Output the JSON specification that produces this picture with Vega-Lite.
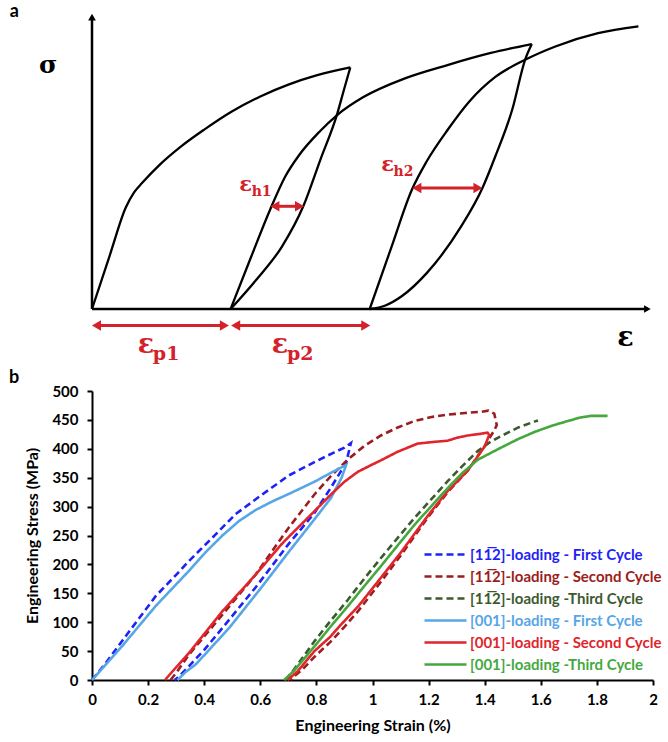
{
  "$schema": "https://vega.github.io/schema/vega-lite/v6.json",
  "padding": {"left": 8, "top": 3, "right": 5, "bottom": 5},
  "bounds": "flush",
  "spacing": 82,
  "config": {"view": {"stroke": null}, "background": "white"},
  "vconcat": [
    {
      "width": 561,
      "height": 296,
      "encoding": {
        "x": {"field": "e", "type": "quantitative", "scale": {"domain": [0, 100], "nice": false, "zero": false}, "axis": null},
        "y": {"field": "s", "type": "quantitative", "scale": {"domain": [0, 100], "nice": false, "zero": false}, "axis": null}
      },
      "layer": [
        {
          "data": {"values": [
            {"c": "L1", "e": 0, "s": 0}, {"c": "L1", "e": 3.2, "s": 18.3}, {"c": "L1", "e": 6.0, "s": 34.2}, {"c": "L1", "e": 7.5, "s": 39.4}, {"c": "L1", "e": 9.0, "s": 42.7}, {"c": "L1", "e": 12.0, "s": 48.6}, {"c": "L1", "e": 16.0, "s": 55.1}, {"c": "L1", "e": 20.0, "s": 60.6}, {"c": "L1", "e": 25.0, "s": 66.8}, {"c": "L1", "e": 30.0, "s": 71.8}, {"c": "L1", "e": 35.0, "s": 75.8}, {"c": "L1", "e": 40.0, "s": 78.9}, {"c": "L1", "e": 46.04, "s": 81.6},
            {"c": "U1", "e": 46.04, "s": 81.6}, {"c": "U1", "e": 44.9, "s": 74.0}, {"c": "U1", "e": 43.75, "s": 66.2}, {"c": "U1", "e": 40.7, "s": 50.4}, {"c": "U1", "e": 37.66, "s": 34.7}, {"c": "U1", "e": 33.86, "s": 21.1}, {"c": "U1", "e": 29.29, "s": 9.9}, {"c": "U1", "e": 24.71, "s": 0},
            {"c": "R1", "e": 24.71, "s": 0}, {"c": "R1", "e": 28.3, "s": 17.3}, {"c": "R1", "e": 31.8, "s": 33.8}, {"c": "R1", "e": 34.4, "s": 44.6}, {"c": "R1", "e": 37.0, "s": 52.2}, {"c": "R1", "e": 40.5, "s": 59.8}, {"c": "R1", "e": 43.75, "s": 65.6}, {"c": "R1", "e": 48.3, "s": 71.5}, {"c": "R1", "e": 55.9, "s": 78.0}, {"c": "R1", "e": 63.5, "s": 82.5}, {"c": "R1", "e": 71.1, "s": 86.5}, {"c": "R1", "e": 78.4, "s": 89.5},
            {"c": "U2", "e": 78.4, "s": 89.5}, {"c": "U2", "e": 77.2, "s": 84.2}, {"c": "U2", "e": 74.9, "s": 67.3}, {"c": "U2", "e": 71.9, "s": 51.6}, {"c": "U2", "e": 69.6, "s": 40.9}, {"c": "U2", "e": 65.8, "s": 27.9}, {"c": "U2", "e": 59.7, "s": 12.2}, {"c": "U2", "e": 55.2, "s": 4.3}, {"c": "U2", "e": 52.3, "s": 1.2}, {"c": "U2", "e": 49.5, "s": 0},
            {"c": "R2", "e": 49.5, "s": 0}, {"c": "R2", "e": 53.3, "s": 20.5}, {"c": "R2", "e": 57.0, "s": 40.2}, {"c": "R2", "e": 59.7, "s": 50.0}, {"c": "R2", "e": 63.5, "s": 60.8}, {"c": "R2", "e": 67.3, "s": 70.2}, {"c": "R2", "e": 71.9, "s": 78.4}, {"c": "R2", "e": 77.2, "s": 84.2}, {"c": "R2", "e": 82.6, "s": 88.7}, {"c": "R2", "e": 90.2, "s": 93.2}, {"c": "R2", "e": 97.4, "s": 95.5}
          ]},
          "mark": {"type": "line", "color": "black", "strokeWidth": 2.3, "interpolate": "monotone"},
          "encoding": {"detail": {"field": "c", "type": "nominal"}, "order": {"field": "e", "type": "quantitative"}}
        },
        {
          "data": {"values": [{"e": 0, "s": 0, "e2": 0, "s2": 98.6}, {"e": 0, "s": 0, "e2": 99, "s2": 0}]},
          "mark": {"type": "rule", "color": "black", "strokeWidth": 2.5},
          "encoding": {"x2": {"field": "e2"}, "y2": {"field": "s2"}}
        },
        {
          "data": {"values": [{"e": 0, "s": 98.6}]},
          "mark": {"type": "point", "shape": "triangle-up", "filled": true, "color": "black", "size": 60, "opacity": 1}
        },
        {
          "data": {"values": [{"e": 99, "s": 0}]},
          "mark": {"type": "point", "shape": "triangle-right", "filled": true, "color": "black", "size": 60, "opacity": 1}
        },
        {
          "data": {"values": [
            {"name": "h1", "e": 32.6, "e2": 37.0, "s": 34.7},
            {"name": "h2", "e": 57.9, "e2": 68.8, "s": 40.9},
            {"name": "p1", "e": 0.8, "e2": 23.6, "s": -5.6},
            {"name": "p2", "e": 25.6, "e2": 48.8, "s": -5.6}
          ]},
          "layer": [
            {"mark": {"type": "rule", "color": "#d3222a", "strokeWidth": 3}, "encoding": {"x2": {"field": "e2"}}},
            {"mark": {"type": "point", "shape": "triangle-left", "filled": true, "color": "#d3222a", "size": 110, "opacity": 1}},
            {"mark": {"type": "point", "shape": "triangle-right", "filled": true, "color": "#d3222a", "size": 110, "opacity": 1}, "encoding": {"x": {"field": "e2", "type": "quantitative"}}}
          ]
        },
        {
          "data": {"values": [{"e": 27.39, "s": 42.0, "t": "ε", "sub": "h1"}, {"e": 52.68, "s": 48.75, "t": "ε", "sub": "h2"}]},
          "layer": [
            {"mark": {"type": "text", "font": "DejaVu Serif", "fontWeight": "bold", "fontSize": 21, "color": "#d3222a", "align": "center", "baseline": "middle"}, "encoding": {"text": {"field": "t"}}},
            {"mark": {"type": "text", "font": "DejaVu Serif", "fontWeight": "bold", "fontSize": 14, "color": "#d3222a", "align": "left", "baseline": "middle", "dx": 6, "dy": 7}, "encoding": {"text": {"field": "sub"}}}
          ]
        },
        {
          "data": {"values": [{"e": 9.6, "s": -12.1, "t": "ε", "sub": "p1"}, {"e": 33.5, "s": -12.1, "t": "ε", "sub": "p2"}]},
          "layer": [
            {"mark": {"type": "text", "font": "DejaVu Serif", "fontWeight": "bold", "fontSize": 27, "color": "#d3222a", "align": "center", "baseline": "middle"}, "encoding": {"text": {"field": "t"}}},
            {"mark": {"type": "text", "font": "DejaVu Serif", "fontWeight": "bold", "fontSize": 19, "color": "#d3222a", "align": "left", "baseline": "middle", "dx": 7, "dy": 9}, "encoding": {"text": {"field": "sub"}}}
          ]
        },
        {
          "data": {"values": [{"e": -7.8, "s": 82.5, "t": "σ"}]},
          "mark": {"type": "text", "font": "DejaVu Serif", "fontWeight": "bold", "fontSize": 25, "color": "black", "align": "center", "baseline": "middle"},
          "encoding": {"text": {"field": "t"}}
        },
        {
          "data": {"values": [{"e": 95.1, "s": -9.7, "t": "ε"}]},
          "mark": {"type": "text", "font": "DejaVu Serif", "fontWeight": "bold", "fontSize": 27, "color": "black", "align": "center", "baseline": "middle"},
          "encoding": {"text": {"field": "t"}}
        },
        {
          "data": {"values": [{"e": -13.86, "s": 100.3, "t": "a"}]},
          "mark": {"type": "text", "font": "Lato", "fontWeight": "bold", "fontSize": 18, "color": "black", "align": "center", "baseline": "middle"},
          "encoding": {"text": {"field": "t"}}
        }
      ]
    },
    {
      "width": 561,
      "height": 289,
      "encoding": {
        "x": {"field": "strain", "type": "quantitative", "scale": {"domain": [0, 2], "nice": false, "zero": false},
          "axis": {"title": "Engineering Strain (%)", "values": [0, 0.2, 0.4, 0.6, 0.8, 1, 1.2, 1.4, 1.6, 1.8, 2], "format": "~g", "grid": false,
            "domainColor": "black", "domainWidth": 2, "tickColor": "black", "tickWidth": 2, "tickSize": 5,
            "labelFont": "Lato", "labelFontSize": 15, "labelFontWeight": "bold", "labelColor": "black", "labelPadding": 7, "labelFlush": false, "labelOverlap": false,
            "titleFont": "Lato", "titleFontSize": 16, "titleFontWeight": "bold", "titleColor": "black", "titlePadding": 10}},
        "y": {"field": "stress", "type": "quantitative", "scale": {"domain": [0, 500], "nice": false, "zero": false},
          "axis": {"title": "Engineering Stress (MPa)", "values": [0, 50, 100, 150, 200, 250, 300, 350, 400, 450, 500], "grid": false,
            "domainColor": "black", "domainWidth": 2, "tickColor": "black", "tickWidth": 2, "tickSize": 5,
            "labelFont": "Lato", "labelFontSize": 15, "labelFontWeight": "bold", "labelColor": "black", "labelPadding": 9, "labelFlush": false, "labelOverlap": false,
            "titleFont": "Lato", "titleFontSize": 16, "titleFontWeight": "bold", "titleColor": "black", "titlePadding": 11}}
      },
      "layer": [
        {
          "data": {"values": [
            {"series": "[11\u03052]-loading - First Cycle", "i": 0, "strain": 0, "stress": 0},
            {"series": "[11\u03052]-loading - First Cycle", "i": 1, "strain": 0.05, "stress": 30},
            {"series": "[11\u03052]-loading - First Cycle", "i": 2, "strain": 0.108, "stress": 68},
            {"series": "[11\u03052]-loading - First Cycle", "i": 3, "strain": 0.17, "stress": 108},
            {"series": "[11\u03052]-loading - First Cycle", "i": 4, "strain": 0.227, "stress": 145},
            {"series": "[11\u03052]-loading - First Cycle", "i": 5, "strain": 0.3, "stress": 182},
            {"series": "[11\u03052]-loading - First Cycle", "i": 6, "strain": 0.346, "stress": 206},
            {"series": "[11\u03052]-loading - First Cycle", "i": 7, "strain": 0.441, "stress": 252},
            {"series": "[11\u03052]-loading - First Cycle", "i": 8, "strain": 0.512, "stress": 287},
            {"series": "[11\u03052]-loading - First Cycle", "i": 9, "strain": 0.607, "stress": 321},
            {"series": "[11\u03052]-loading - First Cycle", "i": 10, "strain": 0.702, "stress": 354},
            {"series": "[11\u03052]-loading - First Cycle", "i": 11, "strain": 0.793, "stress": 377},
            {"series": "[11\u03052]-loading - First Cycle", "i": 12, "strain": 0.86, "stress": 393},
            {"series": "[11\u03052]-loading - First Cycle", "i": 13, "strain": 0.9, "stress": 402},
            {"series": "[11\u03052]-loading - First Cycle", "i": 14, "strain": 0.923, "stress": 410},
            {"series": "[11\u03052]-loading - First Cycle", "i": 15, "strain": 0.906, "stress": 376},
            {"series": "[11\u03052]-loading - First Cycle", "i": 16, "strain": 0.852, "stress": 333},
            {"series": "[11\u03052]-loading - First Cycle", "i": 17, "strain": 0.793, "stress": 289},
            {"series": "[11\u03052]-loading - First Cycle", "i": 18, "strain": 0.702, "stress": 236},
            {"series": "[11\u03052]-loading - First Cycle", "i": 19, "strain": 0.583, "stress": 160},
            {"series": "[11\u03052]-loading - First Cycle", "i": 20, "strain": 0.465, "stress": 90},
            {"series": "[11\u03052]-loading - First Cycle", "i": 21, "strain": 0.4, "stress": 52},
            {"series": "[11\u03052]-loading - First Cycle", "i": 22, "strain": 0.346, "stress": 24},
            {"series": "[11\u03052]-loading - First Cycle", "i": 23, "strain": 0.31, "stress": 6},
            {"series": "[11\u03052]-loading - First Cycle", "i": 24, "strain": 0.295, "stress": 0},

            {"series": "[11\u03052]-loading - Second Cycle", "i": 0, "strain": 0.28, "stress": 0},
            {"series": "[11\u03052]-loading - Second Cycle", "i": 1, "strain": 0.3, "stress": 12},
            {"series": "[11\u03052]-loading - Second Cycle", "i": 2, "strain": 0.346, "stress": 44},
            {"series": "[11\u03052]-loading - Second Cycle", "i": 3, "strain": 0.465, "stress": 113},
            {"series": "[11\u03052]-loading - Second Cycle", "i": 4, "strain": 0.583, "stress": 182},
            {"series": "[11\u03052]-loading - Second Cycle", "i": 5, "strain": 0.674, "stress": 245},
            {"series": "[11\u03052]-loading - Second Cycle", "i": 6, "strain": 0.702, "stress": 264},
            {"series": "[11\u03052]-loading - Second Cycle", "i": 7, "strain": 0.793, "stress": 321},
            {"series": "[11\u03052]-loading - Second Cycle", "i": 8, "strain": 0.85, "stress": 352},
            {"series": "[11\u03052]-loading - Second Cycle", "i": 9, "strain": 0.911, "stress": 381},
            {"series": "[11\u03052]-loading - Second Cycle", "i": 10, "strain": 0.971, "stress": 405},
            {"series": "[11\u03052]-loading - Second Cycle", "i": 11, "strain": 1.03, "stress": 423},
            {"series": "[11\u03052]-loading - Second Cycle", "i": 12, "strain": 1.09, "stress": 437},
            {"series": "[11\u03052]-loading - Second Cycle", "i": 13, "strain": 1.149, "stress": 448},
            {"series": "[11\u03052]-loading - Second Cycle", "i": 14, "strain": 1.21, "stress": 455},
            {"series": "[11\u03052]-loading - Second Cycle", "i": 15, "strain": 1.268, "stress": 459},
            {"series": "[11\u03052]-loading - Second Cycle", "i": 16, "strain": 1.33, "stress": 462},
            {"series": "[11\u03052]-loading - Second Cycle", "i": 17, "strain": 1.387, "stress": 464},
            {"series": "[11\u03052]-loading - Second Cycle", "i": 18, "strain": 1.413, "stress": 466},
            {"series": "[11\u03052]-loading - Second Cycle", "i": 19, "strain": 1.434, "stress": 461},
            {"series": "[11\u03052]-loading - Second Cycle", "i": 20, "strain": 1.443, "stress": 441},
            {"series": "[11\u03052]-loading - Second Cycle", "i": 21, "strain": 1.434, "stress": 432},
            {"series": "[11\u03052]-loading - Second Cycle", "i": 22, "strain": 1.399, "stress": 404},
            {"series": "[11\u03052]-loading - Second Cycle", "i": 23, "strain": 1.339, "stress": 362},
            {"series": "[11\u03052]-loading - Second Cycle", "i": 24, "strain": 1.268, "stress": 325},
            {"series": "[11\u03052]-loading - Second Cycle", "i": 25, "strain": 1.2, "stress": 283},
            {"series": "[11\u03052]-loading - Second Cycle", "i": 26, "strain": 1.1, "stress": 215},
            {"series": "[11\u03052]-loading - Second Cycle", "i": 27, "strain": 1.03, "stress": 170},
            {"series": "[11\u03052]-loading - Second Cycle", "i": 28, "strain": 0.95, "stress": 120},
            {"series": "[11\u03052]-loading - Second Cycle", "i": 29, "strain": 0.9, "stress": 92},
            {"series": "[11\u03052]-loading - Second Cycle", "i": 30, "strain": 0.85, "stress": 66},
            {"series": "[11\u03052]-loading - Second Cycle", "i": 31, "strain": 0.793, "stress": 40},
            {"series": "[11\u03052]-loading - Second Cycle", "i": 32, "strain": 0.75, "stress": 18},
            {"series": "[11\u03052]-loading - Second Cycle", "i": 33, "strain": 0.72, "stress": 6},
            {"series": "[11\u03052]-loading - Second Cycle", "i": 34, "strain": 0.709, "stress": 0},

            {"series": "[11\u03052]-loading -Third Cycle", "i": 0, "strain": 0.69, "stress": 0},
            {"series": "[11\u03052]-loading -Third Cycle", "i": 1, "strain": 0.72, "stress": 18},
            {"series": "[11\u03052]-loading -Third Cycle", "i": 2, "strain": 0.793, "stress": 67},
            {"series": "[11\u03052]-loading -Third Cycle", "i": 3, "strain": 0.85, "stress": 102},
            {"series": "[11\u03052]-loading -Third Cycle", "i": 4, "strain": 0.911, "stress": 138},
            {"series": "[11\u03052]-loading -Third Cycle", "i": 5, "strain": 0.97, "stress": 175},
            {"series": "[11\u03052]-loading -Third Cycle", "i": 6, "strain": 1.03, "stress": 211},
            {"series": "[11\u03052]-loading -Third Cycle", "i": 7, "strain": 1.09, "stress": 246},
            {"series": "[11\u03052]-loading -Third Cycle", "i": 8, "strain": 1.149, "stress": 280},
            {"series": "[11\u03052]-loading -Third Cycle", "i": 9, "strain": 1.21, "stress": 313},
            {"series": "[11\u03052]-loading -Third Cycle", "i": 10, "strain": 1.268, "stress": 344},
            {"series": "[11\u03052]-loading -Third Cycle", "i": 11, "strain": 1.32, "stress": 370},
            {"series": "[11\u03052]-loading -Third Cycle", "i": 12, "strain": 1.375, "stress": 396},
            {"series": "[11\u03052]-loading -Third Cycle", "i": 13, "strain": 1.42, "stress": 412},
            {"series": "[11\u03052]-loading -Third Cycle", "i": 14, "strain": 1.458, "stress": 422},
            {"series": "[11\u03052]-loading -Third Cycle", "i": 15, "strain": 1.52, "stress": 437},
            {"series": "[11\u03052]-loading -Third Cycle", "i": 16, "strain": 1.577, "stress": 447},
            {"series": "[11\u03052]-loading -Third Cycle", "i": 17, "strain": 1.59, "stress": 449},

            {"series": "[001]-loading - First Cycle", "i": 0, "strain": 0, "stress": 0},
            {"series": "[001]-loading - First Cycle", "i": 1, "strain": 0.108, "stress": 59},
            {"series": "[001]-loading - First Cycle", "i": 2, "strain": 0.227, "stress": 128},
            {"series": "[001]-loading - First Cycle", "i": 3, "strain": 0.346, "stress": 189},
            {"series": "[001]-loading - First Cycle", "i": 4, "strain": 0.405, "stress": 221},
            {"series": "[001]-loading - First Cycle", "i": 5, "strain": 0.465, "stress": 250},
            {"series": "[001]-loading - First Cycle", "i": 6, "strain": 0.524, "stress": 275},
            {"series": "[001]-loading - First Cycle", "i": 7, "strain": 0.583, "stress": 294},
            {"series": "[001]-loading - First Cycle", "i": 8, "strain": 0.643, "stress": 309},
            {"series": "[001]-loading - First Cycle", "i": 9, "strain": 0.702, "stress": 322},
            {"series": "[001]-loading - First Cycle", "i": 10, "strain": 0.793, "stress": 343},
            {"series": "[001]-loading - First Cycle", "i": 11, "strain": 0.85, "stress": 358},
            {"series": "[001]-loading - First Cycle", "i": 12, "strain": 0.906, "stress": 372},
            {"series": "[001]-loading - First Cycle", "i": 13, "strain": 0.89, "stress": 350},
            {"series": "[001]-loading - First Cycle", "i": 14, "strain": 0.852, "stress": 315},
            {"series": "[001]-loading - First Cycle", "i": 15, "strain": 0.793, "stress": 278},
            {"series": "[001]-loading - First Cycle", "i": 16, "strain": 0.702, "stress": 222},
            {"series": "[001]-loading - First Cycle", "i": 17, "strain": 0.607, "stress": 162},
            {"series": "[001]-loading - First Cycle", "i": 18, "strain": 0.489, "stress": 90},
            {"series": "[001]-loading - First Cycle", "i": 19, "strain": 0.37, "stress": 27},
            {"series": "[001]-loading - First Cycle", "i": 20, "strain": 0.334, "stress": 14},
            {"series": "[001]-loading - First Cycle", "i": 21, "strain": 0.305, "stress": 0},

            {"series": "[001]-loading - Second Cycle", "i": 0, "strain": 0.26, "stress": 0},
            {"series": "[001]-loading - Second Cycle", "i": 1, "strain": 0.3, "stress": 22},
            {"series": "[001]-loading - Second Cycle", "i": 2, "strain": 0.346, "stress": 47},
            {"series": "[001]-loading - Second Cycle", "i": 3, "strain": 0.465, "stress": 119},
            {"series": "[001]-loading - Second Cycle", "i": 4, "strain": 0.583, "stress": 182},
            {"series": "[001]-loading - Second Cycle", "i": 5, "strain": 0.674, "stress": 234},
            {"series": "[001]-loading - Second Cycle", "i": 6, "strain": 0.702, "stress": 248},
            {"series": "[001]-loading - Second Cycle", "i": 7, "strain": 0.793, "stress": 292},
            {"series": "[001]-loading - Second Cycle", "i": 8, "strain": 0.852, "stress": 321},
            {"series": "[001]-loading - Second Cycle", "i": 9, "strain": 0.9, "stress": 343},
            {"series": "[001]-loading - Second Cycle", "i": 10, "strain": 0.947, "stress": 360},
            {"series": "[001]-loading - Second Cycle", "i": 11, "strain": 1.0, "stress": 373},
            {"series": "[001]-loading - Second Cycle", "i": 12, "strain": 1.03, "stress": 380},
            {"series": "[001]-loading - Second Cycle", "i": 13, "strain": 1.09, "stress": 395},
            {"series": "[001]-loading - Second Cycle", "i": 14, "strain": 1.161, "stress": 409},
            {"series": "[001]-loading - Second Cycle", "i": 15, "strain": 1.22, "stress": 412},
            {"series": "[001]-loading - Second Cycle", "i": 16, "strain": 1.268, "stress": 414},
            {"series": "[001]-loading - Second Cycle", "i": 17, "strain": 1.3, "stress": 419},
            {"series": "[001]-loading - Second Cycle", "i": 18, "strain": 1.339, "stress": 423},
            {"series": "[001]-loading - Second Cycle", "i": 19, "strain": 1.387, "stress": 426},
            {"series": "[001]-loading - Second Cycle", "i": 20, "strain": 1.41, "stress": 428},
            {"series": "[001]-loading - Second Cycle", "i": 21, "strain": 1.416, "stress": 424},
            {"series": "[001]-loading - Second Cycle", "i": 22, "strain": 1.4, "stress": 404},
            {"series": "[001]-loading - Second Cycle", "i": 23, "strain": 1.339, "stress": 362},
            {"series": "[001]-loading - Second Cycle", "i": 24, "strain": 1.268, "stress": 327},
            {"series": "[001]-loading - Second Cycle", "i": 25, "strain": 1.2, "stress": 286},
            {"series": "[001]-loading - Second Cycle", "i": 26, "strain": 1.1, "stress": 220},
            {"series": "[001]-loading - Second Cycle", "i": 27, "strain": 1.03, "stress": 177},
            {"series": "[001]-loading - Second Cycle", "i": 28, "strain": 0.95, "stress": 128},
            {"series": "[001]-loading - Second Cycle", "i": 29, "strain": 0.888, "stress": 96},
            {"series": "[001]-loading - Second Cycle", "i": 30, "strain": 0.85, "stress": 75},
            {"series": "[001]-loading - Second Cycle", "i": 31, "strain": 0.793, "stress": 50},
            {"series": "[001]-loading - Second Cycle", "i": 32, "strain": 0.75, "stress": 25},
            {"series": "[001]-loading - Second Cycle", "i": 33, "strain": 0.733, "stress": 15},
            {"series": "[001]-loading - Second Cycle", "i": 34, "strain": 0.697, "stress": 0},

            {"series": "[001]-loading -Third Cycle", "i": 0, "strain": 0.685, "stress": 0},
            {"series": "[001]-loading -Third Cycle", "i": 1, "strain": 0.72, "stress": 16},
            {"series": "[001]-loading -Third Cycle", "i": 2, "strain": 0.793, "stress": 58},
            {"series": "[001]-loading -Third Cycle", "i": 3, "strain": 0.85, "stress": 92},
            {"series": "[001]-loading -Third Cycle", "i": 4, "strain": 0.911, "stress": 127},
            {"series": "[001]-loading -Third Cycle", "i": 5, "strain": 0.97, "stress": 162},
            {"series": "[001]-loading -Third Cycle", "i": 6, "strain": 1.03, "stress": 197},
            {"series": "[001]-loading -Third Cycle", "i": 7, "strain": 1.09, "stress": 233},
            {"series": "[001]-loading -Third Cycle", "i": 8, "strain": 1.149, "stress": 268},
            {"series": "[001]-loading -Third Cycle", "i": 9, "strain": 1.21, "stress": 301},
            {"series": "[001]-loading -Third Cycle", "i": 10, "strain": 1.268, "stress": 332},
            {"series": "[001]-loading -Third Cycle", "i": 11, "strain": 1.32, "stress": 358},
            {"series": "[001]-loading -Third Cycle", "i": 12, "strain": 1.375, "stress": 381},
            {"series": "[001]-loading -Third Cycle", "i": 13, "strain": 1.458, "stress": 402},
            {"series": "[001]-loading -Third Cycle", "i": 14, "strain": 1.52, "stress": 417},
            {"series": "[001]-loading -Third Cycle", "i": 15, "strain": 1.577, "stress": 429},
            {"series": "[001]-loading -Third Cycle", "i": 16, "strain": 1.64, "stress": 440},
            {"series": "[001]-loading -Third Cycle", "i": 17, "strain": 1.696, "stress": 448},
            {"series": "[001]-loading -Third Cycle", "i": 18, "strain": 1.74, "stress": 454},
            {"series": "[001]-loading -Third Cycle", "i": 19, "strain": 1.779, "stress": 457},
            {"series": "[001]-loading -Third Cycle", "i": 20, "strain": 1.838, "stress": 457}
          ]},
          "mark": {"type": "line", "interpolate": "linear"},
          "encoding": {
            "order": {"field": "i", "type": "quantitative"},
            "color": {"field": "series", "type": "nominal",
              "scale": {"domain": ["[11\u03052]-loading - First Cycle", "[11\u03052]-loading - Second Cycle", "[11\u03052]-loading -Third Cycle", "[001]-loading - First Cycle", "[001]-loading - Second Cycle", "[001]-loading -Third Cycle"],
                "range": ["#1f22f5", "#9b1d20", "#3d5a2f", "#57a6e6", "#e0262c", "#45a83f"]},
              "legend": {"orient": "none", "legendX": 346, "legendY": 534, "title": null, "symbolType": "M-4.2,0H4.2", "symbolSize": 100,
                "labelFont": "Lato", "labelFontSize": 15, "labelFontWeight": "bold", "labelOffset": 17, "rowPadding": 6, "labelLimit": 0,
                "encode": {"labels": {"update": {"fill": {"scale": "color", "field": "value"}}}}}},
            "strokeDash": {"field": "series", "type": "nominal",
              "scale": {"domain": ["[11\u03052]-loading - First Cycle", "[11\u03052]-loading - Second Cycle", "[11\u03052]-loading -Third Cycle", "[001]-loading - First Cycle", "[001]-loading - Second Cycle", "[001]-loading -Third Cycle"],
                "range": [[7, 4], [7, 4], [7, 4], [1, 0], [1, 0], [1, 0]]}},
            "strokeWidth": {"field": "series", "type": "nominal",
              "scale": {"domain": ["[11\u03052]-loading - First Cycle", "[11\u03052]-loading - Second Cycle", "[11\u03052]-loading -Third Cycle", "[001]-loading - First Cycle", "[001]-loading - Second Cycle", "[001]-loading -Third Cycle"],
                "range": [2.6, 2.6, 2.6, 1.8, 1.8, 1.8]}}
          }
        },
        {
          "data": {"values": [{"strain": -0.278, "stress": 522, "t": "b"}]},
          "mark": {"type": "text", "font": "Lato", "fontWeight": "bold", "fontSize": 18, "color": "black", "align": "center", "baseline": "middle"},
          "encoding": {"text": {"field": "t"}}
        }
      ]
    }
  ]
}
